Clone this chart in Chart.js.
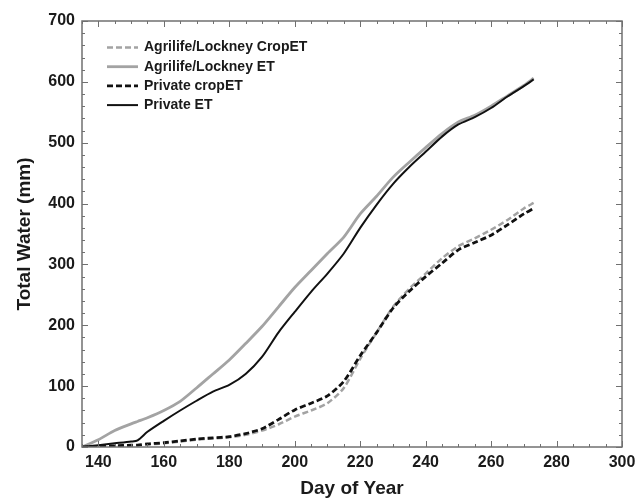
<!DOCTYPE html>
<html>
<head>
<meta charset="utf-8">
<script src="https://cdn.jsdelivr.net/npm/chart.js@4/dist/chart.umd.min.js"></script>
<style>
  html, body { margin: 0; padding: 0; background: #fff; }
  #wrap { width: 643px; height: 501px; }
</style>
</head>
<body>
<div id="wrap"><canvas id="water-chart"></canvas></div>
<script>
// Cumulative water use by day of year
const days = [135, 140, 145, 150, 152, 155, 160, 165, 170, 175, 180, 185, 190, 195, 200,
  205, 210, 215, 220, 225, 230, 235, 240, 245, 250, 255, 260, 265, 270, 273];

const agrilifeCropET = [0, 0, 1, 2, 3, 4, 6, 9, 12, 14, 16, 20, 27, 37, 50,
  60, 72, 97, 145, 188, 230, 260, 285, 310, 330, 343, 357, 373, 392, 401];
const agrilifeET = [0, 12, 27, 38, 42, 48, 60, 75, 97, 120, 143, 170, 198, 230, 262,
  290, 318, 345, 383, 412, 443, 468, 492, 515, 534, 545, 560, 577, 594, 606];
const privateCropET = [0, 1, 2, 3, 3, 5, 7, 10, 13, 15, 17, 22, 30, 45, 61,
  72, 84, 108, 150, 188, 228, 256, 280, 302, 324, 336, 348, 365, 383, 392];
const privateET = [0, 3, 6, 9, 11, 25, 43, 60, 76, 91, 102, 120, 148, 188, 222,
  255, 285, 318, 360, 398, 432, 460, 485, 510, 530, 542, 557, 576, 593, 604];

const xTicks = [140, 160, 180, 200, 220, 240, 260, 280, 300];
const yTicks = [0, 100, 200, 300, 400, 500, 600, 700];

const FONT = "'Liberation Sans', Arial, Helvetica, sans-serif";
const GRAY = "#a3a3a3";
const BLACK = "#111";

function pts(vals) {
  return vals.map((v, i) => ({ x: days[i], y: v }));
}

// inward tick marks on all four sides plus the box
const frameTicks = {
  id: "frameTicks",
  afterDatasetsDraw(chart) {
    const { ctx, chartArea: a, scales: { x, y } } = chart;
    ctx.save();
    ctx.strokeStyle = "#707070";
    ctx.lineWidth = 1;
    ctx.beginPath();
    for (let d = 135; d <= 300; d += 5) {
      const px = Math.round(x.getPixelForValue(d)) + 0.5;
      const len = d % 20 === 0 ? 6 : 3;
      ctx.moveTo(px, a.bottom); ctx.lineTo(px, a.bottom - len);
      ctx.moveTo(px, a.top); ctx.lineTo(px, a.top + len);
    }
    for (let v = 0; v <= 700; v += 20) {
      const py = Math.round(y.getPixelForValue(v)) + 0.5;
      const len = v % 100 === 0 ? 6 : 3;
      ctx.moveTo(a.left, py); ctx.lineTo(a.left + len, py);
      ctx.moveTo(a.right, py); ctx.lineTo(a.right - len, py);
    }
    ctx.stroke();
    ctx.lineWidth = 1.5;
    ctx.strokeRect(a.left, a.top, a.right - a.left, a.bottom - a.top);
    ctx.restore();
  }
};

// legend box in the upper-left corner of the plot
const cornerLegend = {
  id: "cornerLegend",
  afterDraw(chart) {
    const { ctx } = chart;
    ctx.save();
    ctx.font = "bold 14px " + FONT;
    ctx.textBaseline = "middle";
    chart.data.datasets.forEach((ds, i) => {
      const yy = 47.5 + i * 19.2;
      ctx.strokeStyle = ds.borderColor;
      ctx.lineWidth = ds.borderWidth;
      ctx.setLineDash(ds.borderDash || []);
      ctx.beginPath();
      ctx.moveTo(107, yy);
      ctx.lineTo(138, yy);
      ctx.stroke();
      ctx.setLineDash([]);
      ctx.fillStyle = "#1a1a1a";
      ctx.fillText(ds.label, 144, yy);
    });
    ctx.restore();
  }
};

new Chart(document.getElementById("water-chart"), {
  type: "line",
  data: {
    datasets: [
      { label: "Agrilife/Lockney CropET", data: pts(agrilifeCropET), borderColor: GRAY,
        borderWidth: 2.5, borderDash: [6, 3], order: 1 },
      { label: "Agrilife/Lockney ET", data: pts(agrilifeET), borderColor: GRAY,
        borderWidth: 2.8, order: 1 },
      { label: "Private cropET", data: pts(privateCropET), borderColor: BLACK,
        borderWidth: 2.8, borderDash: [6, 3], order: 0 },
      { label: "Private ET", data: pts(privateET), borderColor: BLACK,
        borderWidth: 2, order: 0 },
    ],
  },
  options: {
    responsive: true,
    maintainAspectRatio: false,
    animation: false,
    elements: { point: { radius: 0 }, line: { tension: 0.25 } },
    layout: { padding: { left: 0, top: 21, right: 21, bottom: 0 } },
    plugins: { legend: { display: false }, tooltip: { enabled: false } },
    scales: {
      x: {
        type: "linear",
        min: 135,
        max: 300,
        afterBuildTicks: (s) => { s.ticks = xTicks.map((v) => ({ value: v })); },
        afterFit: (s) => { s.height = 54; },
        grid: { display: false, drawTicks: false },
        border: { display: false },
        ticks: { color: "#1a1a1a", padding: 6, maxRotation: 0, font: { family: FONT, size: 16, weight: "bold" } },
        title: { display: true, text: "Day of Year", color: "#1a1a1a", padding: { top: 0, bottom: 1 },
          font: { family: FONT, size: 19, weight: "bold" } },
      },
      y: {
        min: 0,
        max: 700,
        afterBuildTicks: (s) => { s.ticks = yTicks.map((v) => ({ value: v })); },
        afterFit: (s) => { s.width = 82; },
        grid: { display: false, drawTicks: false },
        border: { display: false },
        ticks: { color: "#1a1a1a", padding: 7, font: { family: FONT, size: 16, weight: "bold" } },
        title: { display: true, text: "Total Water (mm)", color: "#1a1a1a", padding: { top: 13, bottom: 0 },
          font: { family: FONT, size: 19, weight: "bold" } },
      },
    },
  },
  plugins: [frameTicks, cornerLegend],
});
</script>
</body>
</html>
